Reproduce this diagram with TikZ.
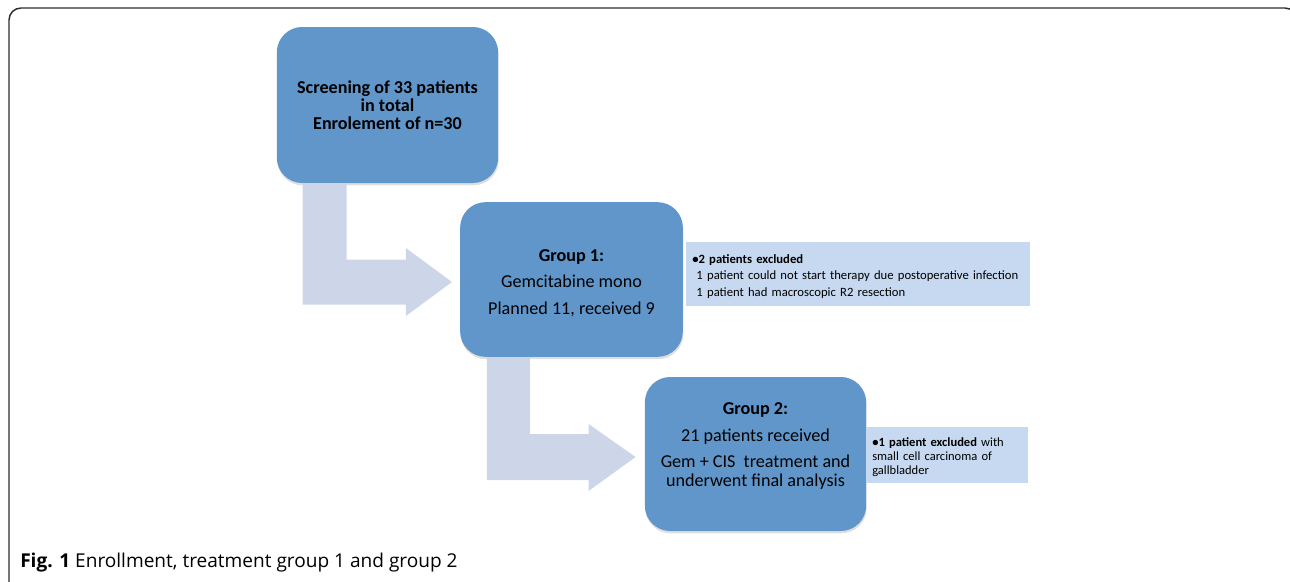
\documentclass[tikz,border=0pt]{standalone}
\usepackage{fontspec}
\setmainfont{Carlito}
\newfontfamily\capfont{Open Sans}
\usepackage{tikz}
\usetikzlibrary{calc,shadows}

\definecolor{boxblue}{RGB}{97,150,202}
\definecolor{arrowgray}{RGB}{205,214,232}
\definecolor{noteblue}{RGB}{198,217,240}
\definecolor{framegray}{RGB}{45,45,45}

\tikzset{
  groupbox/.style={fill=boxblue,rounded corners=19pt,
    drop shadow={shadow xshift=0.4pt,shadow yshift=-1.8pt,opacity=0.25}},
  grouptext/.style={align=center,font=\fontsize{13.6}{14.2}\selectfont},
  notebox/.style={fill=noteblue,inner sep=0pt},
  notetext/.style={anchor=west,inner xsep=4.5pt,inner ysep=0pt,align=left},
  bentarrow/.style={fill=arrowgray}
}

\begin{document}
\begin{tikzpicture}[x=0.75pt,y=-0.75pt]
\useasboundingbox (0,0) rectangle (1290,582);
\clip (0,0) rectangle (1290,582);
\draw[framegray,line width=1.1pt,rounded corners=9pt] (9,8) rectangle (1297,640);

\node[groupbox,minimum width=166pt,minimum height=117pt] (scr) at (387.5,105) {};
\node[groupbox,minimum width=167pt,minimum height=116pt] (g1) at (571.5,279.5) {};
\node[groupbox,minimum width=166pt,minimum height=115.5pt] (g2) at (755.5,454) {};

\node[grouptext] (scrtext) at (scr.center)
  {\bfseries Screening of 33 patients\\[-0.6pt] \bfseries in total\\[-0.6pt] \bfseries Enrolement of n=30};
\node[grouptext] (g1text) at ($(g1.center)+(0,3.5)$)
  {\bfseries Group 1:\\[5.7pt] Gemcitabine mono\\[5.7pt] Planned 11, received 9};
\node[grouptext] (g2text) at ($(g2.center)+(0,-8)$)
  {\bfseries Group 2:\\[5.5pt] 21 patients received\\[5.5pt] Gem + CIS~ treatment and\\ underwent final analysis};

\node[notebox,anchor=west,minimum width=258pt,minimum height=48pt] (ex1) at (686,274) {};
\node[notebox,anchor=west,minimum width=121.5pt,minimum height=42pt] (ex2) at (866,455) {};

\node[notetext,text width=249pt,font=\fontsize{9.5}{12.4}\selectfont] (ex1text) at ($(ex1.west)+(0,2.5)$)
  {\textbf{•2 patients excluded}\\
   \ 1 patient could not start therapy due postoperative infection\\
   \ 1 patient had macroscopic R2 resection};
\node[notetext,text width=112.5pt,font=\fontsize{9.4}{10.5}\selectfont] (ex2text) at ($(ex2.west)+(0,2)$)
  {\textbf{•1 patient excluded} with\\ small cell carcinoma of\\ gallbladder};

\fill[bentarrow] ($(scr.south west)+(26,0)$) -- ($(scr.south west)+(70,0)$)
  |- ($(g1.west)+(-54,-20)$) -- ($(g1.west)+(-54,-31.5)$) -- ($(g1.west)+(-8,2.5)$)
  -- ($(g1.west)+(-54,36.5)$) -- ($(g1.west)+(-54,25)$) -| ($(scr.south west)+(26,0)$) -- cycle;
\fill[bentarrow] ($(g1.south west)+(27,0)$) -- ($(g1.south west)+(70,0)$)
  |- ($(g2.west)+(-56,-20)$) -- ($(g2.west)+(-56,-30)$) -- ($(g2.west)+(-9,3)$)
  -- ($(g2.west)+(-56,37)$) -- ($(g2.west)+(-56,26)$) -| ($(g1.south west)+(27,0)$) -- cycle;

\node[anchor=base west,inner sep=0pt,font=\capfont\fontsize{14.3}{16}\selectfont] (cap) at (20,567)
  {\textbf{Fig. 1} Enrollment, treatment group 1 and group 2};
\end{tikzpicture}
\end{document}
